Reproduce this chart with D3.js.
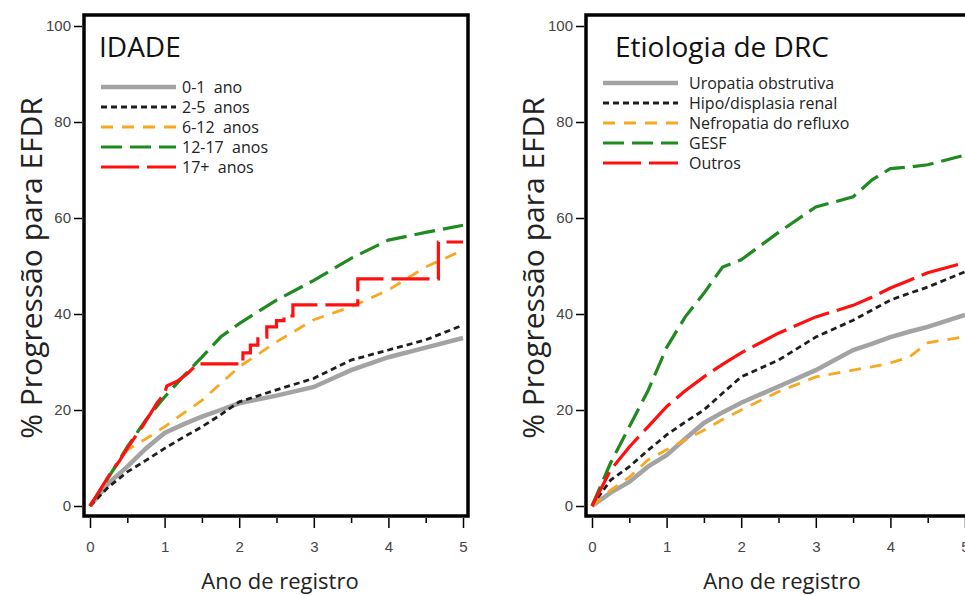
<!DOCTYPE html>
<html>
<head>
<meta charset="UTF-8">
<title>Progressão para EFDR</title>
<script src="https://cdn.jsdelivr.net/npm/d3@7/dist/d3.min.js"></script>
<style>
  body{margin:0;background:#fff;}
  svg{display:block;font-family:"Open Sans",sans-serif;}
  .tick text{fill:#444;font-size:15px;}
  .lg{white-space:pre;}
</style>
</head>
<body>
<script>
// anos de registro
var xTicks = [0, 1, 2, 3, 4, 5];
var xMinor = [0.5, 1.5, 2.5, 3.5, 4.5];
var yTicks = [0, 20, 40, 60, 80, 100];

// IDADE - grupos
var idadeNomes = ["0-1  ano", "2-5  anos", "6-12  anos", "12-17  anos", "17+  anos"];
var idadeT = [0, 0.25, 0.5, 0.75, 1, 1.25, 1.5, 1.75, 2, 2.5, 3, 3.5, 4, 4.5, 5];
var idade01  = [0, 4.8, 8.2, 12, 15.2, 17, 18.6, 20, 21.4, 23, 24.8, 28.3, 31, 33, 35];
var idade25  = [0, 4, 7.1, 9.5, 12, 14.3, 16.5, 19, 21.7, 24.2, 26.6, 30.4, 32.5, 34.6, 37.7];
var idade612 = [0, 6, 11.7, 14, 16.5, 19.3, 22, 25.5, 29, 34.2, 38.8, 41.5, 45, 49.8, 53.3];
var idade1217 = [0, 6, 12.3, 18, 22.7, 27, 31, 35.2, 38, 42.9, 47, 51.6, 55.4, 57, 58.5];
// 17+ : curva de Kaplan-Meier com degraus (tempos repetidos = saltos)
var idade17T = [0, 0.1, 0.2, 0.3, 0.4, 0.5, 0.6, 0.7, 0.8, 0.9, 1.0, 1.03, 1.17, 1.3, 1.44,
                2.05, 2.05, 2.15, 2.15, 2.25, 2.25, 2.37, 2.37, 2.5, 2.5, 2.6, 2.6, 2.72, 2.72,
                3.59, 3.59, 4.67, 4.67, 5];
var idade17  = [0, 2.5, 5, 7.5, 9.5, 12, 14.3, 16.5, 19, 21.5, 23.5, 25, 26, 27.5, 29.6,
                29.6, 31.9, 31.9, 33.5, 33.5, 35.2, 35.2, 37.3, 37.3, 38.6, 38.6, 39.6, 39.6, 41.9,
                41.9, 47.3, 47.3, 55, 55];

// Etiologia de DRC
var etioNomes = ["Uropatia obstrutiva", "Hipo/displasia renal", "Nefropatia do refluxo", "GESF", "Outros"];
var etioT = [0, 0.25, 0.5, 0.75, 1, 1.25, 1.5, 1.75, 2, 2.5, 3, 3.5, 3.75, 4, 4.25, 4.5, 5];
var uropatia   = [0, 2.8, 5, 8.2, 10.6, 14, 17.3, 19.5, 21.5, 24.9, 28.3, 32.5, 33.8, 35.2, 36.3, 37.3, 39.8];
var hipoplasia = [0, 5.4, 8.2, 11.6, 14.8, 17.5, 20, 23.5, 26.9, 30.4, 35.2, 38.7, 40.8, 42.9, 44.3, 45.6, 48.8];
var refluxo    = [0, 3.3, 6, 9.6, 11.7, 13.8, 15.8, 18, 20, 23.8, 26.9, 28.3, 29, 29.8, 31, 34, 35.3];
var gesf       = [0, 9, 16.5, 24, 33, 39.4, 44.3, 49.8, 51.3, 57, 62.3, 64.4, 67.9, 70.3, 70.6, 71.1, 73.1];
var outros     = [0, 7.5, 12.3, 16.5, 20.7, 24, 26.9, 29.5, 31.9, 36, 39.4, 41.8, 43.5, 45.4, 47, 48.6, 50.7];

var estilos = [
  {cor: "#a3a3a3", larg: 4.5, dash: null},
  {cor: "#1e1e1e", larg: 2.8, dash: "6,4"},
  {cor: "#f7a823", larg: 2.8, dash: "12,9"},
  {cor: "#1f8a1f", larg: 3.2, dash: "21,8"},
  {cor: "#ff1010", larg: 3.2, dash: "38,8"}
];

var svg = d3.select("body").append("svg")
  .attr("width", 965)
  .attr("height", 596);

function zip(ts, vs) {
  return ts.map(function(t, i){ return [t, vs[i]]; });
}

function painel(cfg) {
  var x = d3.scaleLinear().domain([0, 5]).range([cfg.x0 + 3, cfg.x0 + 376]);
  var y = d3.scaleLinear().domain([0, 100]).range([506, 26]);
  var g = svg.append("g");

  // curvas
  var linha = d3.line()
    .x(function(d){ return x(d[0]); })
    .y(function(d){ return y(d[1]); });
  cfg.series.forEach(function(s, i){
    var st = estilos[i];
    g.append("path")
      .datum(s)
      .attr("d", linha)
      .attr("fill", "none")
      .attr("stroke", st.cor)
      .attr("stroke-width", st.larg)
      .attr("stroke-dasharray", st.dash);
  });

  // moldura
  g.append("rect")
    .attr("x", cfg.x0 - 3)
    .attr("y", 15)
    .attr("width", 384)
    .attr("height", 501)
    .attr("fill", "none")
    .attr("stroke", "#000")
    .attr("stroke-width", 3.5);

  // eixos
  var xAxis = d3.axisBottom(x).tickValues(xTicks).tickSize(10).tickPadding(13).tickFormat(d3.format("d"));
  var gx = g.append("g").attr("transform", "translate(0,518)").call(xAxis);
  gx.select(".domain").remove();
  gx.selectAll("line").attr("stroke-width", 1.5);

  var gm = g.append("g").attr("transform", "translate(0,518)")
    .call(d3.axisBottom(x).tickValues(xMinor).tickSize(5).tickFormat(""));
  gm.select(".domain").remove();
  gm.selectAll("line").attr("stroke-width", 1.5);

  var gy = g.append("g").attr("transform", "translate(" + (cfg.x0 - 5) + ",0)")
    .call(d3.axisLeft(y).tickValues(yTicks).tickSize(8).tickPadding(3));
  gy.select(".domain").remove();
  gy.selectAll("line").attr("stroke-width", 1.5);
  gy.selectAll("text").attr("font-size", 14);

  // títulos dos eixos
  g.append("text")
    .attr("transform", "translate(" + (cfg.x0 - 45) + ",268) rotate(-90)")
    .attr("text-anchor", "middle")
    .attr("font-size", 30)
    .attr("fill", "#222")
    .text("% Progressão para EFDR");

  g.append("text")
    .attr("x", cfg.x0 + 193)
    .attr("y", 589)
    .attr("text-anchor", "middle")
    .attr("font-size", 22)
    .attr("fill", "#222")
    .text("Ano de registro");

  // título do painel
  g.append("text")
    .attr("x", cfg.tx)
    .attr("y", 57)
    .attr("font-size", 28)
    .attr("fill", "#111")
    .text(cfg.titulo);

  // legenda
  cfg.nomes.forEach(function(n, i){
    var st = estilos[i];
    var yy = cfg.ly + i * 20;
    g.append("line")
      .attr("x1", cfg.lx).attr("x2", cfg.lx + 75)
      .attr("y1", yy).attr("y2", yy)
      .attr("stroke", st.cor)
      .attr("stroke-width", st.larg)
      .attr("stroke-dasharray", st.dash);
    g.append("text")
      .attr("class", "lg")
      .attr("x", cfg.lx + cfg.ldx)
      .attr("y", yy + 5.5)
      .attr("font-size", 16)
      .attr("fill", "#222")
      .text(n);
  });
}

painel({
  x0: 87, tx: 99, titulo: "IDADE", lx: 101, ly: 87, ldx: 81,
  nomes: idadeNomes,
  series: [
    zip(idadeT, idade01),
    zip(idadeT, idade25),
    zip(idadeT, idade612),
    zip(idadeT, idade1217),
    zip(idade17T, idade17)
  ]
});

painel({
  x0: 589, tx: 615, titulo: "Etiologia de DRC", lx: 603, ly: 83, ldx: 86,
  nomes: etioNomes,
  series: [
    zip(etioT, uropatia),
    zip(etioT, hipoplasia),
    zip(etioT, refluxo),
    zip(etioT, gesf),
    zip(etioT, outros)
  ]
});
</script>
</body>
</html>
